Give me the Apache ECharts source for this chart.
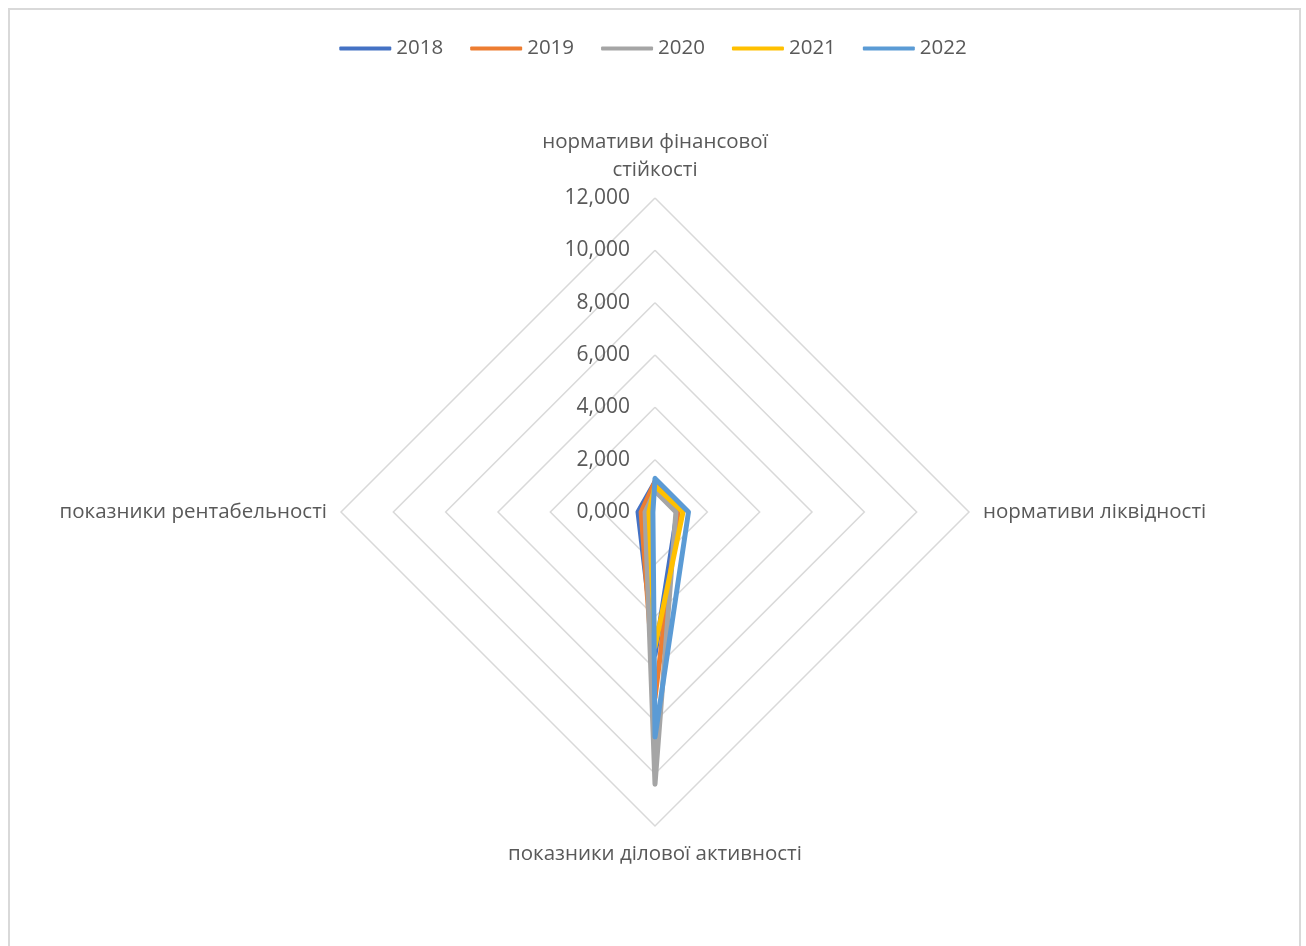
<!DOCTYPE html>
<html>
<head>
<meta charset="utf-8">
<script src="https://cdn.jsdelivr.net/npm/echarts@6/dist/echarts.min.js"></script>
<style>
  html, body { margin: 0; padding: 0; background: #fff; }
  #chart { width: 1306px; height: 946px; }
</style>
</head>
<body>
<div id="chart"></div>
<script>
// Indicator groups, listed in ECharts radar order (counter-clockwise from the top)
const indicators = [
  'нормативи фінансової\nстійкості',
  'показники рентабельності',
  'показники ділової активності',
  'нормативи ліквідності'
];
const years = ['2018', '2019', '2020', '2021', '2022'];
const colors = ['#4472C4', '#ED7D31', '#A5A5A5', '#FFC000', '#5B9BD5'];

// Values per year: [фінансова стійкість, рентабельність, ділова активність, ліквідність]
const v2018 = [1.15, 0.65, 5.45, 0.85];
const v2019 = [1.15, 0.53, 7.1, 0.88];
const v2020 = [0.8, 0.38, 10.4, 0.8];
const v2021 = [1.0, 0.23, 5.15, 1.07];
const v2022 = [1.28, 0.08, 8.6, 1.28];
const yearValues = [v2018, v2019, v2020, v2021, v2022];

const axisMax = 12;
const axisStep = 2;

const textColor = '#595959';
const fontFamily = '"Open Sans", "Noto Sans", sans-serif';
const fontSize = 20.5;
const center = [655, 512];
const radius = 314;

const chart = echarts.init(document.getElementById('chart'));

chart.setOption({
  backgroundColor: '#fff',
  animation: false,
  graphic: [{
    type: 'rect',
    shape: { x: 9, y: 9, width: 1291, height: 1000 },
    style: { fill: 'none', stroke: '#d9d9d9', lineWidth: 2 },
    silent: true
  }],
  legend: {
    top: 33,
    left: 'center',
    icon: 'roundRect',
    itemWidth: 52,
    itemHeight: 4,
    itemGap: 27,
    textStyle: { color: textColor, fontSize: fontSize, fontFamily: fontFamily },
    data: years
  },
  radar: {
    center: center,
    radius: radius,
    startAngle: 90,
    shape: 'polygon',
    splitNumber: axisMax / axisStep,
    nameGap: 14,
    axisName: {
      color: textColor,
      fontSize: fontSize,
      fontFamily: fontFamily,
      lineHeight: 28
    },
    axisLine: { show: false },
    splitLine: { lineStyle: { color: '#d9d9d9', width: 1.5 } },
    splitArea: { show: false },
    indicator: indicators.map(n => ({ name: n, min: 0, max: axisMax }))
  },
  // Polar system sharing the radar's centre and radius, used only for the value labels on the top axis
  polar: { center: center, radius: radius },
  angleAxis: { startAngle: 90, show: false, min: 0, max: 360 },
  radiusAxis: {
    min: 0,
    max: axisMax,
    interval: axisStep,
    axisLine: { show: false },
    axisTick: { show: false },
    splitLine: { show: false },
    axisLabel: {
      color: textColor,
      fontSize: 21,
      fontFamily: fontFamily,
      margin: 25,
      formatter: v => v.toFixed(3).replace('.', ',')
    }
  },
  series: [{
    type: 'radar',
    symbol: 'none',
    data: years.map((y, i) => ({
      name: y,
      value: yearValues[i],
      itemStyle: { color: colors[i] },
      lineStyle: { color: colors[i], width: 5, join: 'round', cap: 'round' }
    }))
  }]
});
</script>
</body>
</html>
